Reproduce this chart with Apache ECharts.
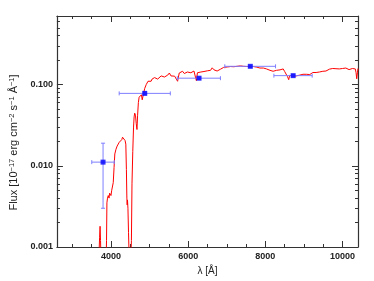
<!DOCTYPE html>
<html><head><meta charset="utf-8">
<script src="https://cdn.jsdelivr.net/npm/echarts@6/dist/echarts.min.js"></script>
<style>html,body{margin:0;padding:0;background:#fff}#c{width:374px;height:281px}</style>
</head><body><div id="c"></div>
<script>
// Spectrum (red line)
var specWave = [3600,3690,3705,3718,3730,3745,3760,3860,3885,3895,3910,3930,3950,3965,3985,4000,4020,4040,4059,4080,4100,4130,4160,4190,4215,4240,4260,4280,4300,4315,4340,4365,4385,4400,4412,4420,4428,4440,4455,4470,4487,4520,4530,4545,4565,4585,4600,4615,4635,4655,4674,4690,4710,4730,4745,4765,4790,4810,4828,4850,4875,4895,4913,4935,4960,4985,5010,5040,5065,
5085,5130,5169,5210,5256,5300,5341,5385,5426,5470,5513,5555,5597,5650,5700,5726,5769,5810,5854,5900,5938,5980,6026,6070,6110,6150,6195,6213,6240,6290,6330,6367,6410,6451,6500,6538,6580,6623,6670,6708,6750,6795,6840,6880,6920,6970,7020,7051,7100,7136,7180,7220,7265,7308,7350,7392,7440,7477,7520,7564,7610,7649,7690,7733,7780,7821,7860,7905,7950,7990,8030,8077,8120,8161,8200,8246,8290,8333,8380,8418,8462,8500,8546,8575,8605,8630,8674,8720,8759,8800,8846,8890,8931,8975,9015,9060,9102,9150,9187,9230,9272,9315,9359,9400,9444,9490,9528,9570,9615,9660,9700,9745,9785,9830,9872,9915,9956,10000,10041,10085,10128,10169,10212,10255,10297,10330,10350,10367,10385,10400];
var specFlux = [0.0003,0.0008,0.0013,0.0018,0.0012,0.0006,0.0003,0.0003,0.0012,0.0035,0.0040,0.0043,0.0040,0.0046,0.0048,0.0043,0.0050,0.0052,0.0062,0.0095,0.0140,0.0160,0.0175,0.0185,0.0195,0.0200,0.0195,0.0210,0.0225,0.0230,0.0222,0.0205,0.0185,0.0090,0.0040,0.0033,0.0038,0.0030,0.0015,0.0008,0.0003,0.0003,0.0012,0.0060,0.0150,0.0300,0.0400,0.0445,0.0420,0.0330,0.0280,0.0420,0.0600,0.0700,0.0720,0.0690,0.0750,0.0650,0.0620,0.0800,0.0900,0.0950,0.1000,0.1050,0.1100,0.1050,0.1120,0.1100,0.1170,
0.115,0.122,0.123,0.117,0.118,0.128,0.133,0.124,0.120,0.131,0.139,0.128,0.130,0.127,0.132,0.110,0.139,0.135,0.146,0.137,0.138,0.143,0.149,0.140,0.144,0.147,0.153,0.112,0.140,0.146,0.143,0.150,0.145,0.152,0.148,0.155,0.150,0.161,0.152,0.153,0.147,0.146,0.155,0.158,0.163,0.160,0.165,0.163,0.167,0.168,0.166,0.170,0.168,0.173,0.170,0.171,0.168,0.172,0.167,0.170,0.168,0.172,0.167,0.170,0.164,0.167,0.160,0.163,0.160,0.158,0.156,0.153,0.150,0.149,0.146,0.146,0.150,0.146,0.152,0.158,0.156,0.145,0.139,0.125,0.115,0.130,0.125,0.127,0.123,0.128,0.126,0.131,0.130,0.134,0.129,0.134,0.137,0.133,0.136,0.141,0.146,0.141,0.145,0.143,0.148,0.146,0.149,0.147,0.149,0.155,0.154,0.158,0.161,0.157,0.159,0.156,0.160,0.158,0.163,0.160,0.158,0.153,0.157,0.158,0.160,0.156,0.140,0.118,0.140,0.158];

// Photometric points (blue)
var photWave   = [3795, 4875, 6282, 7610, 8720];
var photWaveLo = [3503, 4213, 5718, 6949, 8221];
var photWaveHi = [4085, 5538, 6836, 8264, 9213];
var photFlux   = [0.0111, 0.078, 0.120, 0.168, 0.129];
var photFluxLo = [0.0030, 0.075, 0.116, 0.163, 0.125];
var photFluxHi = [0.0190, 0.081, 0.124, 0.173, 0.133];

// Ticks
var xMajor = [4000, 6000, 8000, 10000];
var xMinor = [3000,3500,4500,5000,5500,6500,7000,7500,8500,9000,9500,10000];
var yMajor = [0.001, 0.01, 0.1];
var yMinor = [0.002,0.003,0.004,0.005,0.006,0.007,0.008,0.009,0.02,0.03,0.04,0.05,0.06,0.07,0.08,0.09,0.2,0.3,0.4,0.5,0.6,0.7];

var lineCol = '#333';
var fontFam = 'Liberation Sans, Arial, sans-serif';
function xa(pos, vals, len, labels, name, line) {
  return {
    type: 'value', position: pos, min: 2600, max: 10400,
    name: name || '', nameLocation: 'middle', nameGap: 17,
    nameTextStyle: {fontFamily: fontFam, fontSize: 10, color: '#222'},
    axisLine: {show: line, onZero: false, lineStyle: {color: lineCol, width: 1.2}},
    axisTick: {show: true, inside: true, length: len, customValues: vals, lineStyle: {color: lineCol, width: 1}},
    axisLabel: labels ? {show: true, customValues: vals, margin: 5, fontFamily: fontFam, fontSize: 9, color: '#222', fontWeight: 'bold',
      formatter: function (v) { return String(Math.round(v)); }} : {show: false},
    splitLine: {show: false}
  };
}
function ya(pos, vals, len, labels, name, line) {
  return {
    type: 'log', logBase: 10, position: pos, min: 0.001, max: 0.7,
    name: name || '', nameLocation: 'middle', nameGap: 34,
    nameTextStyle: {fontFamily: fontFam, fontSize: 11, color: '#222', padding: [0, 22, 0, 0],
      rich: {m: {fontFamily: fontFam, fontSize: 11, color: '#222'},
             s: {fontFamily: fontFam, fontSize: 7.5, color: '#222', verticalAlign: 'top', padding: [0, 0, 4, 0]}}},
    axisLine: {show: line, onZero: false, lineStyle: {color: lineCol, width: 1.2}},
    axisTick: {show: true, inside: true, length: len, customValues: vals, lineStyle: {color: lineCol, width: 1}},
    axisLabel: labels ? {show: true, customValues: vals, margin: 4, fontFamily: fontFam, fontSize: 9, color: '#222', fontWeight: 'bold',
      formatter: function (v) { return Number(v).toFixed(3); }} : {show: false},
    splitLine: {show: false}
  };
}

var spec = specWave.map(function (w, i) { return [w, specFlux[i]]; });
var phot = photWave.map(function (w, i) { return [w, photFlux[i]]; });
var errs = photWave.map(function (w, i) { return [w, photFlux[i], photWaveLo[i], photWaveHi[i], photFluxLo[i], photFluxHi[i]]; });

var yTitle = '{m|Flux [10}{s|−17}{m| erg cm}{s|−2}{m| s}{s|−1}{m| Å}{s|−1}{m|]}';

var chart = echarts.init(document.getElementById('c'), null, {renderer: 'canvas'});
chart.setOption({
  animation: false,
  grid: {left: 54, right: 16, top: 16, bottom: 34},
  xAxis: [
    xa('bottom', xMajor, 6, true, 'λ [Å]', true),
    xa('bottom', xMinor, 3, false, '', false),
    xa('top', xMajor, 6, false, '', true),
    xa('top', xMinor, 3, false, '', false)
  ],
  yAxis: [
    ya('left', yMajor, 6, true, yTitle, true),
    ya('left', yMinor, 3, false, '', false),
    ya('right', yMajor, 6, false, '', true),
    ya('right', yMinor, 3, false, '', false)
  ],
  series: [
    {type: 'line', data: spec, xAxisIndex: 0, yAxisIndex: 0, showSymbol: false, clip: true,
     lineStyle: {color: '#ff0000', width: 1}, z: 2},
    {type: 'custom', xAxisIndex: 0, yAxisIndex: 0, data: errs, z: 3, clip: true,
     renderItem: function (params, api) {
       var c = api.coord([api.value(0), api.value(1)]);
       var l = api.coord([api.value(2), api.value(1)]);
       var r = api.coord([api.value(3), api.value(1)]);
       var lo = api.coord([api.value(0), api.value(4)]);
       var hi = api.coord([api.value(0), api.value(5)]);
       var st = {stroke: '#7f7fff', lineWidth: 1, fill: null};
       var cap = 2;
       return {type: 'group', children: [
         {type: 'line', shape: {x1: l[0], y1: c[1], x2: r[0], y2: c[1]}, style: st},
         {type: 'line', shape: {x1: l[0], y1: c[1]-cap, x2: l[0], y2: c[1]+cap}, style: st},
         {type: 'line', shape: {x1: r[0], y1: c[1]-cap, x2: r[0], y2: c[1]+cap}, style: st},
         {type: 'line', shape: {x1: c[0], y1: lo[1], x2: c[0], y2: hi[1]}, style: st},
         {type: 'line', shape: {x1: c[0]-cap, y1: lo[1], x2: c[0]+cap, y2: lo[1]}, style: st},
         {type: 'line', shape: {x1: c[0]-cap, y1: hi[1], x2: c[0]+cap, y2: hi[1]}, style: st}
       ]};
     }},
    {type: 'scatter', data: phot, xAxisIndex: 0, yAxisIndex: 0, symbol: 'rect', symbolSize: 5,
     itemStyle: {color: '#0000ff'}, z: 4}
  ]
});
</script></body></html>
